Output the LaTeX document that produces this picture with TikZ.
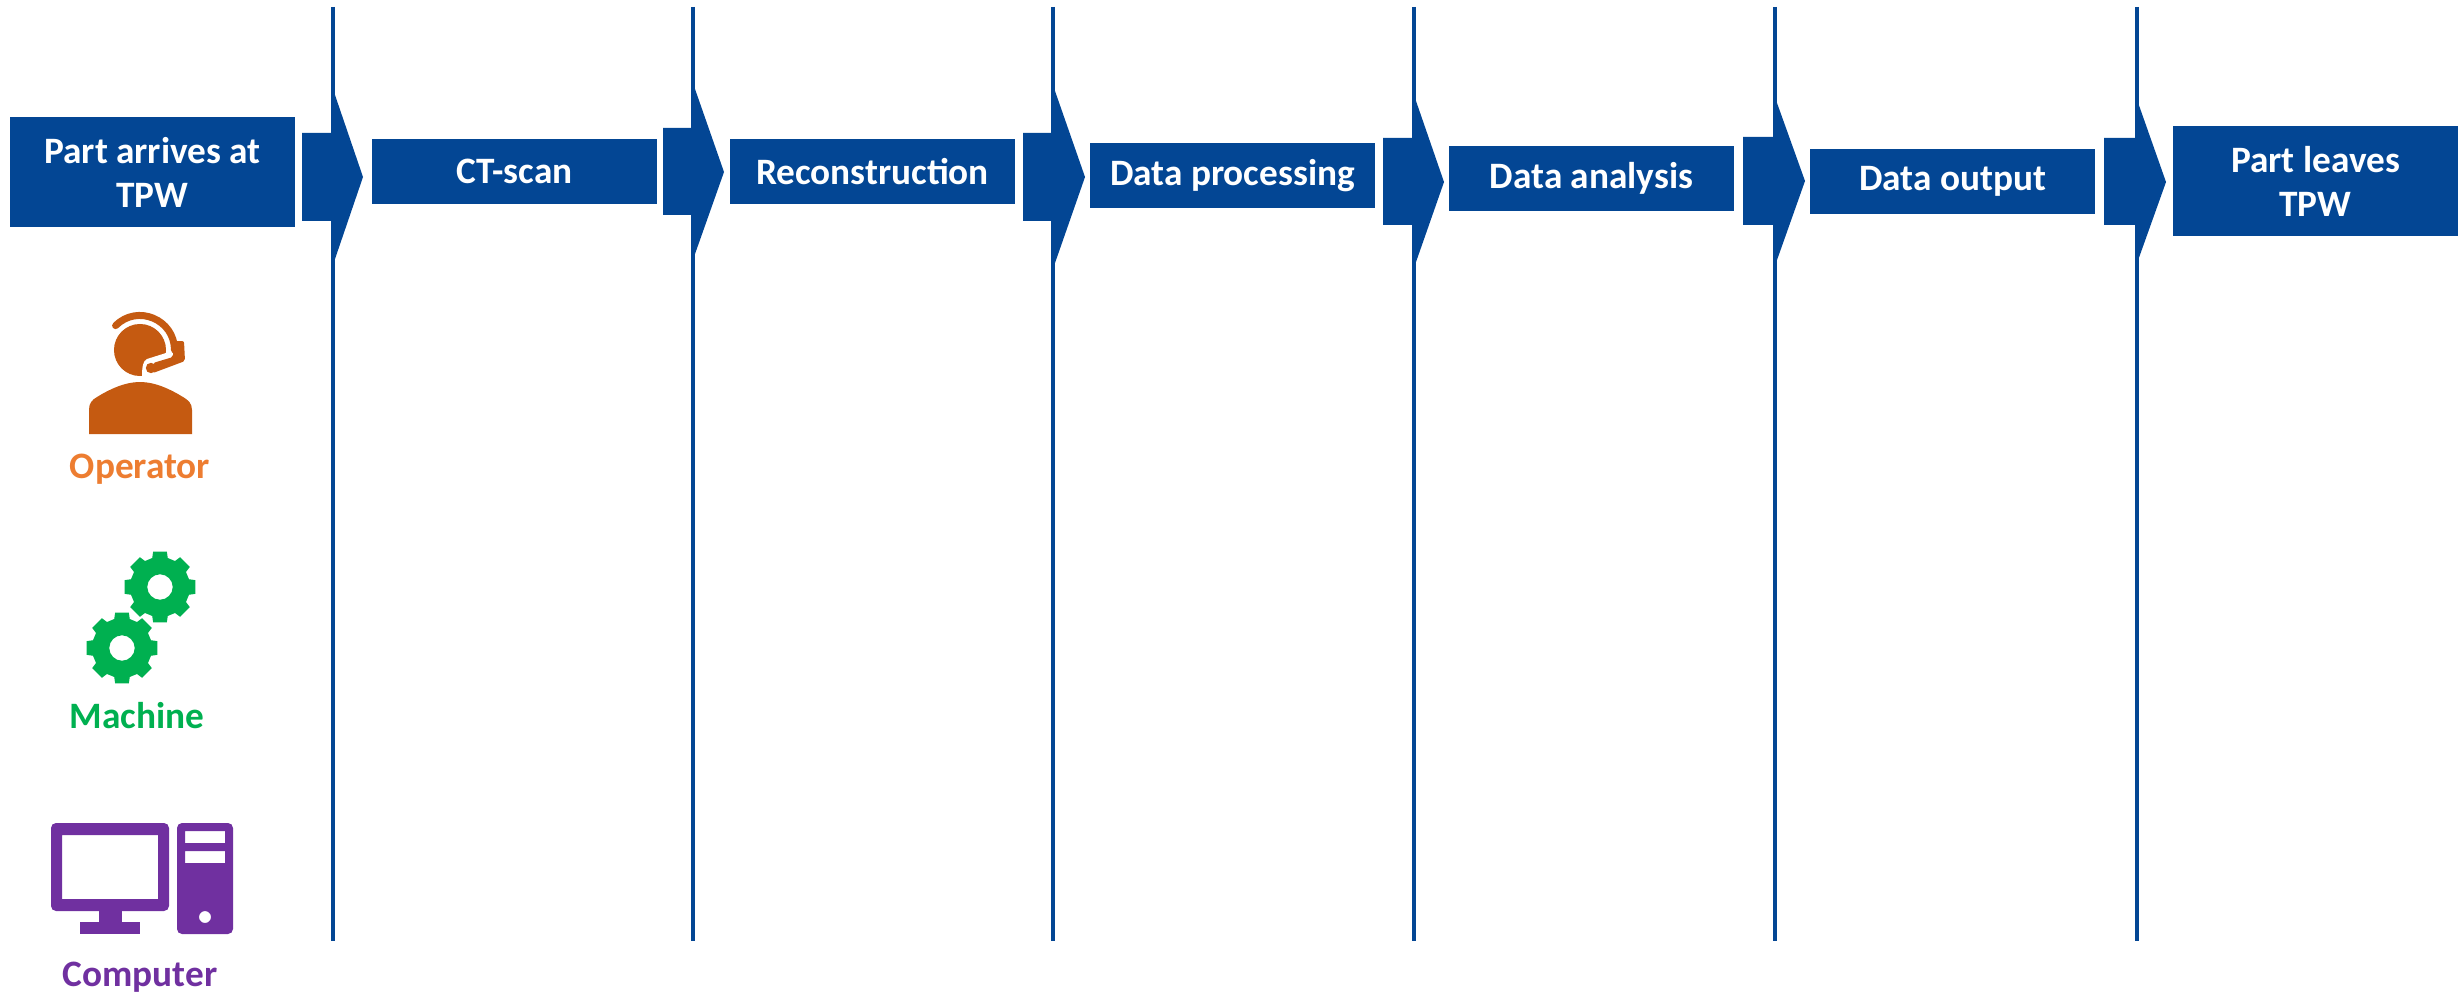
\documentclass[tikz,border=0pt]{standalone}
\usepackage{fontspec}
\setmainfont{Carlito}
\definecolor{tpwblue}{HTML}{034694}
\definecolor{opbrown}{HTML}{C55A11}
\definecolor{optext}{HTML}{ED7D31}
\definecolor{machgreen}{HTML}{00B050}
\definecolor{pcpurple}{HTML}{7030A0}
\tikzstyle{stepbox} = [
    rectangle,
    minimum width=2.85cm,
    minimum height=0.65cm,
    inner sep=0pt,
    align=center,
    text=white,
    fill=tpwblue,
    font=\fontsize{10.6}{12.5}\selectfont\bfseries
]
\tikzstyle{endbox} = [
    stepbox,
    minimum height=1.1cm
]
\tikzstyle{divider} = [draw=tpwblue, line width=0.04cm]
\tikzstyle{blockarrow} = [fill=tpwblue]
\tikzstyle{rolelabel} = [font=\fontsize{10.6}{12}\selectfont\bfseries, inner sep=0pt]
\tikzset{
    cog/.pic={
        \fill [machgreen, even odd rule]
            (-15:30) \foreach \a in {0,45,...,315} {
                -- (\a-15:30) -- (\a-11:36) -- (\a+11:36) -- (\a+15:30)
            } -- cycle
            (0,0) circle [radius=0.127cm];
    }
}

\begin{document}
\begin{tikzpicture}[x=0.01cm, y=-0.01cm]
\useasboundingbox (0,0) rectangle (2463,994);

% Nodes
\node (arrive) [endbox] at (152.5,172) {Part arrives at\\ TPW};
\node (ctscan) [stepbox] at (514.5,171.5) {CT-scan};
\node (recon) [stepbox] at (872.5,171.5) {Reconstruction};
\node (process) [stepbox] at (1232.5,175.5) {Data processing};
\node (analysis) [stepbox] at (1591.5,178.5) {Data analysis};
\node (output) [stepbox] at (1952.5,181.5) {Data output};
\node (leave) [endbox] at (2315.5,181) {Part leaves\\ TPW};

\node (operator) [rolelabel, text=optext] at (140,469) {Operator};
\node (machine) [rolelabel, text=machgreen] at (137,716) {Machine};
\node (computer) [rolelabel, text=pcpurple] at (140,977) {Computer};

% Dividers
\foreach \n/\x in {1/333, 2/693, 3/1053, 4/1414, 5/1775, 6/2136.5} {
    \coordinate (top\n) at (\x,7);
    \coordinate (bot\n) at (\x,941);
    \draw [divider] (top\n) -- (bot\n);
}

% Arrows
\foreach \xa/\xl/\xt/\yt/\yb/\ym/\ha/\hb in {
    302/335/363/133/221/177/95/259,
    663/695/724/128/215/172/89/254,
    1023/1055/1085/133/221/177/91/263,
    1383/1416/1444/138/225/182/101/262,
    1743/1777/1805/137/225/181/103/260,
    2104/2138.5/2166/138/225/182/104/259} {
    \fill [blockarrow] (\xa,\yt) -- (\xl,\yt) -- (\xl,\ha) -- (\xt,\ym)
        -- (\xl,\hb) -- (\xl,\yb) -- (\xa,\yb) -- cycle;
}

% Operator
\fill [opbrown] (140,350) circle [radius=0.26cm];
\fill [white] (166,353) -- (147,359) .. controls (143,361) and (142,366) .. (142,378)
    -- (176,380) -- (176,345) -- cycle;
\draw [opbrown, line width=0.07cm, line cap=round] (115.6,325.6)
    .. controls (137.3,303.9) and (174.5,319.3) .. (174.5,350);
\fill [opbrown, rounded corners=0.02cm] (173,341) -- (184,341) -- (185,361)
    -- (153,373) -- (153,363) -- (173,357) -- cycle;
\fill [opbrown] (151,368) circle [radius=0.052cm];
\fill [opbrown] (89,434) -- (89,410) .. controls (89,403) and (92,400) .. (97,397)
    .. controls (110,389) and (125,382) .. (140,382)
    .. controls (155,382) and (170,389) .. (183,397)
    .. controls (188,400) and (192,403) .. (192,410) -- (192,434) -- cycle;

% Machine
\pic at (160,587) {cog};
\pic at (122,648) {cog};

% Computer
\fill [pcpurple, even odd rule] [rounded corners=0.05cm] (51,823) rectangle (169,911)
    [sharp corners] (62,835) rectangle (158,899);
\fill [pcpurple] (99,905) rectangle (122,925);
\fill [pcpurple] (80,922) rectangle (140,934);
\fill [pcpurple, even odd rule] [rounded corners=0.05cm] (177,823) rectangle (233,934)
    [sharp corners] (185,831) rectangle (225,843)
    (185,851) rectangle (225,863)
    (205,917) circle [radius=0.06cm];

\end{tikzpicture}
\end{document}
